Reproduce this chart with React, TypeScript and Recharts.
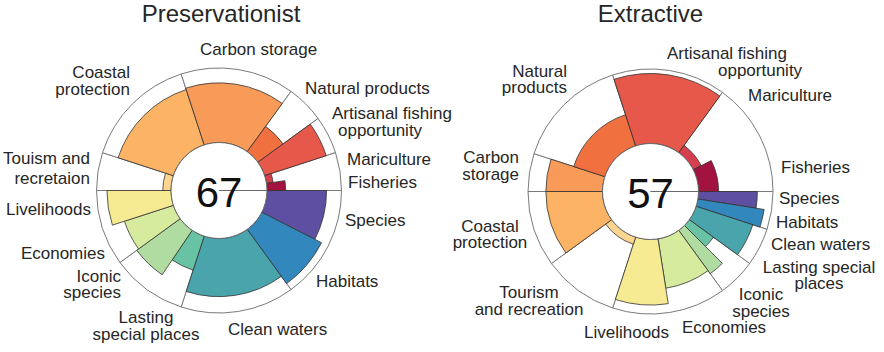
import { PieChart, Pie, Cell } from 'recharts';

// petals, clockwise from 3 o'clock
const petals = [
  'Species', 'Habitats', 'Clean waters', 'Lasting special places', 'Iconic species',
  'Economies', 'Livelihoods', 'Tourism and recreation', 'Coastal protection',
  'Carbon storage', 'Natural products', 'Artisanal fishing opportunity', 'Mariculture', 'Fisheries',
];
const goalOf = ['BD', 'BD', 'CW', 'SP', 'SP', 'LE', 'LE', 'TR', 'CP', 'CS', 'NP', 'AO', 'FP', 'FP'];
const petalColors = [
  '#5e4fa2', '#3288bd', '#4aa4ac', '#68c3a5', '#b0dca2', '#d6eb9e', '#f6ea92',
  '#fdd590', '#fcb365', '#f89b58', '#f0703f', '#e5584a', '#d6404e', '#a3133f',
];

// Preservationist
const presWeights = [27, 27, 54, 16, 20, 18, 18, 18, 54, 54, 18, 18, 9.5, 8.5];
const presScores = [80, 90, 78, 48, 72, 69, 86, 11, 78, 80, 42, 87, 9, 25];
const presLabels = [
  ['Species'], ['Habitats'], ['Clean waters'], ['Lasting', 'special places'], ['Iconic', 'species'],
  ['Economies'], ['Livelihoods'], ['Touism and', 'recretaion'], ['Coastal', 'protection'],
  ['Carbon storage'], ['Natural products'], ['Artisanal fishing', 'opportunity'], ['Mariculture'], ['Fisheries'],
];

// Extractive
const extrWeights = [9, 9, 18, 9, 9, 27, 27, 36, 36, 18, 54, 54, 27, 27];
const extrScores = [79, 90, 80, 40, 72, 67, 88, 10, 76, 76, 44, 94, 12, 27];
const extrLabels = [
  ['Species'], ['Habitats'], ['Clean waters'], ['Lasting special', 'places'], ['Iconic', 'species'],
  ['Economies'], ['Livelihoods'], ['Tourism', 'and recreation'], ['Coastal', 'protection'],
  ['Carbon', 'storage'], ['Natural', 'products'], ['Artisanal fishing', 'opportunity'], ['Mariculture'], ['Fisheries'],
];

const INNER = 48;
const OUTER = 122.5;
const FONT = '"Liberation Sans", Arial, sans-serif';
const INK = '#262626';

type Anchor = 'start' | 'middle' | 'end';
type LinePos = [number, number, Anchor];

// label line positions (x, baseline, anchor)
const presPos: LinePos[][] = [
  [[345, 226, 'start']],
  [[316, 287, 'start']],
  [[228, 335, 'start']],
  [[146, 323, 'middle'], [146, 340, 'middle']],
  [[121, 282, 'end'], [121, 298, 'end']],
  [[105, 259, 'end']],
  [[91, 215, 'end']],
  [[90, 164, 'end'], [90, 184, 'end']],
  [[130, 78, 'end'], [130, 95, 'end']],
  [[200, 55, 'start']],
  [[305, 94, 'start']],
  [[332, 119, 'start'], [338, 136, 'start']],
  [[347, 165, 'start']],
  [[348, 188, 'start']],
];
const extrPos: LinePos[][] = [
  [[779, 204, 'start']],
  [[776, 228, 'start']],
  [[771, 250, 'start']],
  [[819, 273, 'middle'], [819, 289, 'middle']],
  [[761, 300, 'middle'], [761, 317, 'middle']],
  [[682, 333, 'start']],
  [[584, 338, 'start']],
  [[529, 298, 'middle'], [529, 315, 'middle']],
  [[490, 232, 'middle'], [490, 248, 'middle']],
  [[519, 163, 'end'], [519, 180, 'end']],
  [[567, 77, 'end'], [567, 93, 'end']],
  [[667, 59, 'start'], [718, 76, 'start']],
  [[748, 101, 'start']],
  [[781, 173, 'start']],
];

type Flower = {
  id: string;
  title: string;
  total: number;
  cx: number;
  cy: number;
  weights: number[];
  scores: number[];
  labels: string[][];
  pos: LinePos[][];
};

const flowers: Flower[] = [
  { id: 'pres', title: 'Preservationist', total: 67, cx: 219, cy: 190.5, weights: presWeights, scores: presScores, labels: presLabels, pos: presPos },
  { id: 'extr', title: 'Extractive', total: 57, cx: 650.5, cy: 191.5, weights: extrWeights, scores: extrScores, labels: extrLabels, pos: extrPos },
];

function goalsFrom(weights: number[]) {
  const out: { goal: string; weight: number }[] = [];
  weights.forEach((w, i) => {
    const last = out[out.length - 1];
    if (last && last.goal === goalOf[i]) last.weight += w;
    else out.push({ goal: goalOf[i], weight: w });
  });
  return out;
}

function renderFlower(f: Flower) {
  const data = petals.map((name, i) => ({ name, weight: f.weights[i], score: f.scores[i] }));
  const common = {
    cx: f.cx,
    cy: f.cy,
    startAngle: 0,
    endAngle: -360,
    isAnimationActive: false,
    labelLine: false,
  };
  const els = [];

  // full-length outline per goal
  els.push(
    <Pie key={f.id + '-outline'} {...common} data={goalsFrom(f.weights)} dataKey="weight"
      innerRadius={INNER} outerRadius={OUTER} fill="#ffffff" stroke="#7a7a7a" strokeWidth={1} />
  );

  // one pie per petal, only that petal visible
  data.forEach((d, j) => {
    els.push(
      <Pie key={f.id + '-petal-' + j} {...common} data={data} dataKey="weight"
        innerRadius={INNER} outerRadius={INNER + ((OUTER - INNER) * d.score) / 100}
        stroke="none">
        {data.map((_, i) => (
          <Cell key={i} fill={i === j ? petalColors[i] : 'none'}
            stroke={i === j ? '#333333' : 'none'} strokeWidth={0.8} />
        ))}
      </Pie>
    );
  });

  // centre disc with total and title
  els.push(
    <Pie key={f.id + '-centre'} {...common} data={[{ name: 'total', v: 1 }]} dataKey="v"
      innerRadius={0} outerRadius={INNER} fill="#ffffff" stroke="#6a6a6a" strokeWidth={1}
      label={() => (
        <g>
          <text x={f.cx} y={f.cy + 16} textAnchor="middle" fontSize={42} fontFamily={FONT} fill="#111">
            {f.total}
          </text>
          <text x={f.cx + (f.id === 'pres' ? 2 : 0)} y={21.5} textAnchor="middle" fontSize={24} fontFamily={FONT} fill={INK}>
            {f.title}
          </text>
        </g>
      )} />
  );

  // petal names
  els.push(
    <Pie key={f.id + '-labels'} {...common} data={data} dataKey="weight"
      innerRadius={INNER} outerRadius={OUTER} fill="none" stroke="none"
      label={(p: any) => {
        const i = p.index;
        return (
          <g>
            {f.labels[i].map((t, k) => {
              const [x, y, a] = f.pos[i][k];
              return (
                <text key={k} x={x} y={y} textAnchor={a} fontSize={17} fontFamily={FONT} fill={INK}>
                  {t}
                </text>
              );
            })}
          </g>
        );
      }} />
  );
  return els;
}

export default function App() {
  return (
    <div style={{ position: 'absolute', left: 0, top: 0, width: 884, height: 352, background: '#fff' }}>
      <PieChart width={884} height={352} margin={{ top: 0, right: 0, bottom: 0, left: 0 }}>
        {flowers.map((f) => renderFlower(f))}
      </PieChart>
    </div>
  );
}
